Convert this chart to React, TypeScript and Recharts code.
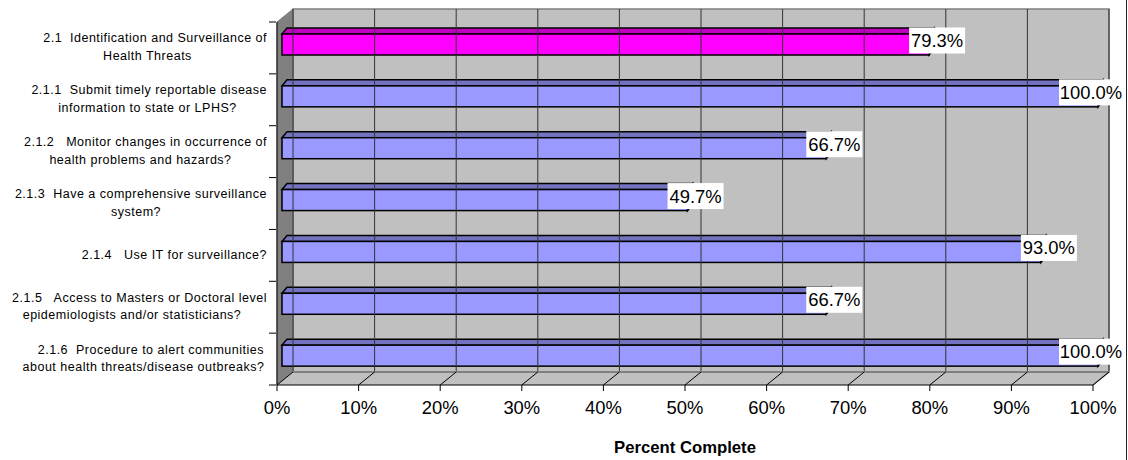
import React from 'react';
import { BarChart, Bar, XAxis, YAxis, ReferenceArea, ReferenceLine, LabelList } from 'recharts';

const categoryLines: string[][] = [
  ['2.1  Identification and Surveillance of', 'Health Threats'],
  ['2.1.1  Submit timely reportable disease', 'information to state or LPHS?'],
  ['2.1.2   Monitor changes in occurrence of', 'health problems and hazards?'],
  ['2.1.3  Have a comprehensive surveillance', 'system?'],
  ['2.1.4   Use IT for surveillance?'],
  ['2.1.5   Access to Masters or Doctoral level', 'epidemiologists and/or statisticians?'],
  ['2.1.6  Procedure to alert communities', 'about health threats/disease outbreaks?'],
];
const values = [79.3, 100, 66.7, 49.7, 93.0, 66.7, 100];
const barColors = ['#FF00FF', '#9999FF', '#9999FF', '#9999FF', '#9999FF', '#9999FF', '#9999FF'];
const topColors = ['#BF00BF', '#7373BF', '#7373BF', '#7373BF', '#7373BF', '#7373BF', '#7373BF'];
const xTicks = [0, 10, 20, 30, 40, 50, 60, 70, 80, 90, 100];

const data = values.map((v, i) => ({ cat: String(i), value: v }));

// label layout, separate from the data
const firstLineRight = [267, 267, 267, 267, 267, 267, 264];
const secondLineCenter = [147.5, 147.5, 140.5, 136, 0, 132, 143.5];

const FONT = '"Liberation Sans", Arial, sans-serif';
const DX = 16;
const DY = 13;
const ROW = 51.86;
const BAR_DX = 5;
const BAR_DY = 6;

const Walls = (p: any) => {
  const { x, y, width, height } = p;
  const r = x + width;
  const b = y + height;
  return (
    <g>
      <rect x={x + DX} y={y - DY} width={width} height={height} fill="#C0C0C0" stroke="#808080" strokeWidth={1.5} />
      <polygon points={`${x},${y} ${x + DX},${y - DY} ${x + DX},${b - DY} ${x},${b}`} fill="#808080" stroke="#808080" />
      <polygon points={`${x},${b} ${x + DX},${b - DY} ${r + DX},${b - DY} ${r},${b}`} fill="#C0C0C0" />
      <line x1={x + DX} y1={b - DY} x2={r + DX} y2={b - DY} stroke="#808080" strokeWidth={2} />
      <line x1={r} y1={b} x2={r + DX} y2={b - DY} stroke="#808080" strokeWidth={1.5} />
    </g>
  );
};

const GridShape = (p: any) => {
  const { x1, y1, y2 } = p;
  const top = Math.min(y1, y2);
  const bottom = Math.max(y1, y2);
  return (
    <g stroke="#000" strokeWidth={1}>
      <line x1={x1 + DX} y1={top - DY} x2={x1 + DX} y2={bottom - DY - 1} stroke="#333" />
      <line x1={x1 + DX} y1={bottom - DY} x2={x1} y2={bottom} />
    </g>
  );
};

const Bar3D = (p: any) => {
  const { x, y, width, height, index } = p;
  const fx = x + BAR_DX;
  const fy = y - 3;
  const r = fx + width;
  const b = fy + height;
  return (
    <g stroke="#000" strokeWidth={1.5} strokeLinejoin="miter">
      <polygon points={`${fx},${fy} ${fx + BAR_DX},${fy - BAR_DY} ${r + BAR_DX},${fy - BAR_DY} ${r},${fy}`} fill={topColors[index]} />
      <polygon points={`${r},${fy} ${r + BAR_DX},${fy - BAR_DY} ${r + BAR_DX},${b - BAR_DY} ${r},${b}`} fill={topColors[index]} />
      <rect x={fx} y={fy} width={width} height={height} fill={barColors[index]} />
    </g>
  );
};

const ValueLabel = (p: any) => {
  const { x, y, width, height, value } = p;
  const text = `${Number(value).toFixed(1)}%`;
  const w = text.length * 8 + 16;
  const cx = Math.min(x + BAR_DX + width + 8, 1123 - w / 2);
  const cy = y + height / 2 - 7;
  return (
    <g>
      <rect x={cx - w / 2} y={cy - 13} width={w} height={26} fill="#fff" />
      <text x={cx} y={cy} textAnchor="middle" dominantBaseline="central" fontFamily={FONT} fontSize={18.4} fill="#000">{text}</text>
    </g>
  );
};

const CatTick = (p: any) => {
  const { x, y, payload, index } = p;
  const i = Number(payload.value);
  const lines = categoryLines[i];
  const axisX = x + 7;
  const isLast = index === categoryLines.length - 1;
  const style = { whiteSpace: 'pre' as const };
  const common = { dominantBaseline: 'central' as const, fontFamily: FONT, fontSize: 12.5, letterSpacing: 0.5, fill: '#000', style };
  return (
    <g>
      <line x1={axisX - 7} x2={axisX} y1={y - ROW / 2} y2={y - ROW / 2} stroke="#000" strokeWidth={1} />
      {isLast && <line x1={axisX - 7} x2={axisX} y1={y + ROW / 2} y2={y + ROW / 2} stroke="#000" strokeWidth={1} />}
      <text x={firstLineRight[i]} y={lines.length > 1 ? y - 9.5 : y} textAnchor="end" {...common}>{lines[0]}</text>
      {lines.length > 1 && <text x={secondLineCenter[i]} y={y + 8} textAnchor="middle" {...common}>{lines[1]}</text>}
    </g>
  );
};

export default function App() {
  return (
    <div style={{ position: 'absolute', left: 0, top: 0, width: 1128, height: 460 }}>
      <BarChart width={1128} height={460} data={data} layout="vertical" margin={{ top: 22, right: 35, bottom: 0, left: 0 }} barSize={21}>
        <XAxis type="number" dataKey="value" domain={[0, 100]} ticks={xTicks} tickFormatter={(v: number) => `${v}%`} interval={0}
          tick={{ fontFamily: FONT, fontSize: 18.4, fill: '#000' }} tickSize={6} tickMargin={10} stroke="#000" height={75}
          label={{ value: 'Percent Complete', position: 'insideBottom', offset: 7, style: { fontFamily: FONT, fontSize: 16.7, fontWeight: 'bold', fill: '#000' } }} />
        <YAxis type="category" dataKey="cat" width={277} tick={<CatTick />} tickLine={false} stroke="#000" interval={0} />
        <ReferenceArea x1={0} x2={100} ifOverflow="visible" shape={<Walls />} />
        {xTicks.map((t) => (
          <ReferenceLine key={t} x={t} ifOverflow="visible" shape={<GridShape />} />
        ))}
        <Bar dataKey="value" isAnimationActive={false} shape={<Bar3D />}>
          <LabelList dataKey="value" content={<ValueLabel />} />
        </Bar>
      </BarChart>
      <div style={{ position: 'absolute', left: 1125.5, top: 0, bottom: 0, width: 1.5, background: '#222' }} />
    </div>
  );
}
